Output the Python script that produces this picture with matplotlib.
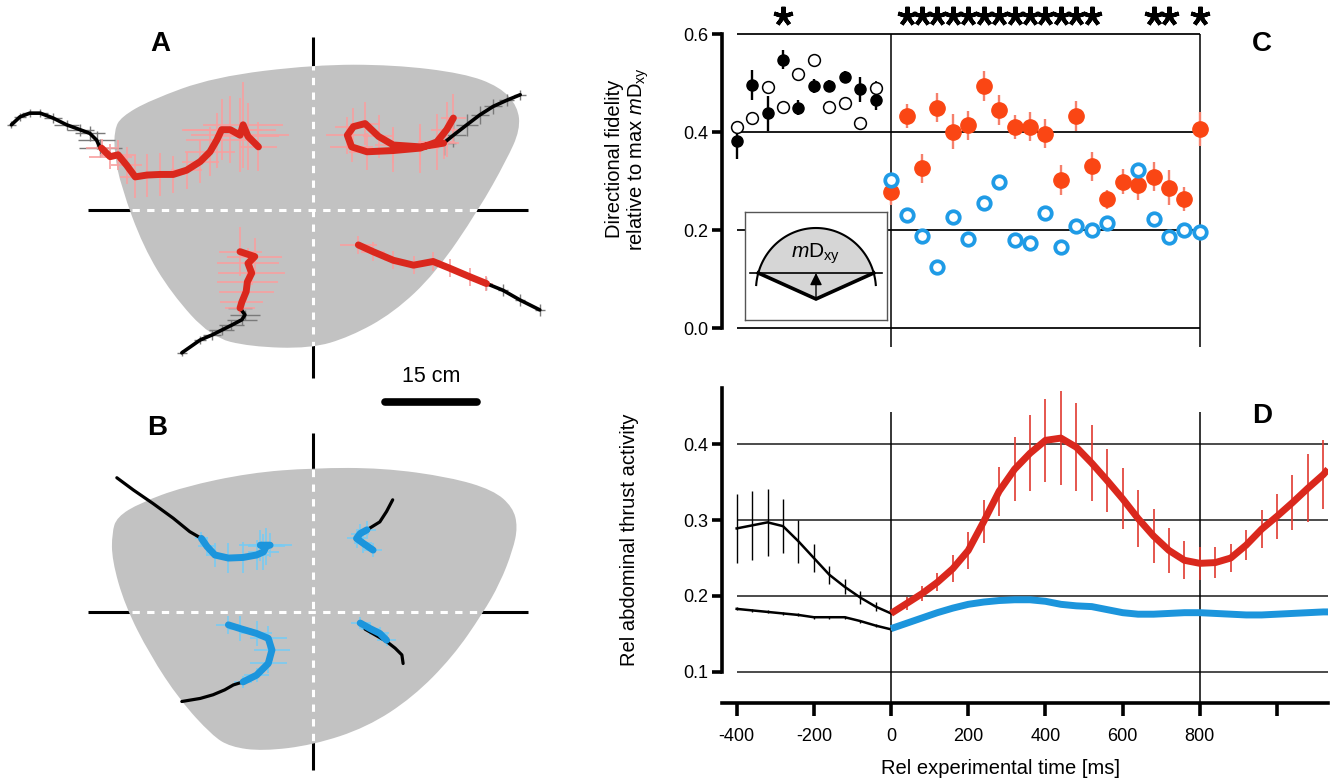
import numpy as np
import matplotlib
matplotlib.use("Agg")
import matplotlib.pyplot as plt
from matplotlib.path import Path
from matplotlib.patches import PathPatch, Polygon

plt.rcParams['font.family'] = ['Liberation Sans Narrow', 'Liberation Sans', 'DejaVu Sans']
plt.rcParams['mathtext.fontset'] = 'custom'
plt.rcParams['mathtext.rm'] = 'Liberation Sans'
plt.rcParams['mathtext.it'] = 'Liberation Sans:italic'

# ---------------- data ----------------
# panel C: directional fidelity, pre-stimulus (black) and stimulus (red / blue)
c_t_pre = np.arange(-400, -39, 40)
c_pre_filled = [0.381, 0.496, 0.438, 0.548, 0.450, 0.494, 0.494, 0.512, 0.487, 0.466]
c_pre_filled_err = [0.035, 0.030, 0.035, 0.020, 0.015, 0.015, 0.012, 0.012, 0.025, 0.020]
c_pre_open = [0.410, 0.428, 0.491, 0.452, 0.518, 0.548, 0.451, 0.459, 0.419, 0.489]
c_pre_open_err = [0.012, 0.010, 0.012, 0.010, 0.010, 0.008, 0.010, 0.010, 0.012, 0.015]

c_t_stim = np.arange(0, 801, 40)
c_red = [0.277, 0.433, 0.326, 0.450, 0.401, 0.414, 0.494, 0.445, 0.410, 0.411, 0.397,
         0.302, 0.433, 0.330, 0.263, 0.299, 0.292, 0.309, 0.287, 0.264, 0.406]
c_red_err = [0.025, 0.025, 0.030, 0.030, 0.035, 0.030, 0.030, 0.030, 0.025, 0.030, 0.030,
             0.030, 0.030, 0.030, 0.020, 0.025, 0.030, 0.030, 0.035, 0.025, 0.035]
c_blue = [0.302, 0.231, 0.188, 0.126, 0.228, 0.183, 0.255, 0.299, 0.180, 0.175, 0.236,
          0.165, 0.209, 0.200, 0.215, np.nan, 0.323, 0.222, 0.186, 0.200, 0.197]
c_blue_err = [0.012] * 21
c_star_t = [-280, 40, 80, 120, 160, 200, 240, 280, 320, 360, 400, 440, 480, 520, 680, 720, 800]

# panel D: abdominal thrust activity
d_t_pre = np.arange(-400, 1, 40)
d_pre_up = [0.289, 0.293, 0.297, 0.292, 0.272, 0.250, 0.228, 0.212, 0.198, 0.186, 0.177]
d_pre_up_err = [0.046, 0.045, 0.044, 0.036, 0.028, 0.018, 0.012, 0.010, 0.008, 0.006, 0.0]
d_pre_low = [0.183, 0.181, 0.179, 0.177, 0.175, 0.172, 0.172, 0.172, 0.167, 0.161, 0.156]
d_pre_low_err = [0.002] * 11

d_t_stim = np.append(np.arange(0, 1121, 40), 1132)
d_red = [0.177, 0.190, 0.203, 0.218, 0.236, 0.260, 0.298, 0.338, 0.367, 0.388, 0.405,
         0.408, 0.396, 0.375, 0.352, 0.328, 0.302, 0.279, 0.260, 0.247, 0.243, 0.244,
         0.250, 0.267, 0.288, 0.305, 0.323, 0.342, 0.360, 0.367]
d_red_err = [0.0, 0.008, 0.010, 0.012, 0.018, 0.024, 0.028, 0.032, 0.042, 0.050, 0.055,
             0.062, 0.058, 0.050, 0.042, 0.040, 0.037, 0.036, 0.030, 0.025, 0.022, 0.020,
             0.018, 0.020, 0.025, 0.030, 0.036, 0.045, 0.045, 0.0]
d_blue = [0.157, 0.164, 0.171, 0.178, 0.184, 0.189, 0.192, 0.194, 0.195, 0.195, 0.193,
          0.189, 0.187, 0.186, 0.182, 0.178, 0.176, 0.176, 0.177, 0.178, 0.178, 0.177,
          0.176, 0.175, 0.175, 0.176, 0.177, 0.178, 0.179, 0.179]
d_blue_err = [0.002] * 30

# panels A/B: arena outlines and trajectories, cm from arena centre (y up)
a_arena = [(-32.4, 13.1), (-31.3, 15.2), (-26.6, 17.9), (-16.2, 21.7), (0.2, 23.7), (13.1, 23.7),
           (24.6, 22.3), (30.5, 20.1), (33.4, 16.9), (33.8, 13.1), (31.6, 8.2), (27.0, 0.0),
           (20.0, -10.3), (13.1, -16.8), (6.0, -20.7), (-0.4, -22.6), (-10.3, -22.3),
           (-16.7, -20.7), (-23.1, -13.6), (-27.7, -6.0), (-31.3, 3.8), (-32.4, 9.2)]
b_arena = [(-32.8, 12.9), (-32.0, 15.5), (-28.2, 17.8), (-21.2, 20.4), (-10.3, 22.7), (0.0, 23.5),
           (11.4, 23.5), (22.3, 22.0), (29.4, 19.9), (32.6, 17.1), (33.4, 13.9), (32.6, 10.1),
           (30.5, 4.7), (27.7, -0.2), (22.8, -7.3), (16.3, -13.9), (8.8, -18.8), (0.0, -21.7),
           (-8.2, -22.7), (-13.5, -22.0), (-16.5, -20.1), (-21.7, -14.4), (-26.6, -7.0),
           (-30.7, 1.1), (-32.8, 8.5)]

a_ul_pre = np.array([(-49.2, 13.9), (-47.8, 15.2), (-46.2, 15.8), (-44.5, 15.8), (-42.4, 15.0),
                     (-40.2, 13.9), (-38.0, 13.1), (-36.4, 12.5), (-35.3, 11.4), (-34.7, 10.1)])
a_ul_pre_err = np.array([(0.8, 0.6), (1.0, 0.6), (1.2, 0.6), (1.2, 0.6), (1.5, 0.8),
                         (2.0, 0.8), (2.2, 1.0), (2.5, 1.2), (3.0, 1.5), (3.5, 1.5)])
a_ul_stim = np.array([(-34.5, 10.1), (-33.1, 8.7), (-31.8, 9.0), (-30.4, 7.3), (-29.0, 5.4),
                      (-27.1, 5.7), (-25.0, 5.8), (-22.8, 5.8), (-20.6, 6.5), (-18.4, 7.9),
                      (-16.8, 9.5), (-15.7, 11.4), (-14.9, 13.1), (-13.5, 13.1), (-11.9, 12.2),
                      (-11.4, 13.9), (-10.6, 12.0), (-8.9, 10.3)])
a_ul_stim_err = np.array([(2.5, 1.5), (3.5, 2.0), (3.0, 2.5), (2.5, 3.0), (2.5, 3.5), (2.0, 3.5),
                          (2.0, 3.5), (2.0, 3.0), (2.5, 3.0), (3.0, 3.5), (4.0, 4.0), (5.0, 4.5),
                          (6.5, 5.0), (7.5, 5.5), (8.0, 6.0), (6.5, 7.0), (5.0, 5.5), (3.0, 4.0)])

a_ur_pre = np.array([(33.8, 18.8), (31.6, 17.9), (29.4, 16.9), (27.2, 15.5), (25.1, 13.9),
                     (22.9, 12.2), (21.3, 10.9)])
a_ur_pre_err = np.array([(1.0, 0.8), (1.2, 1.0), (1.5, 1.2), (1.5, 1.5), (1.8, 1.8),
                         (2.0, 2.0), (2.0, 2.0)])
a_ur_stim = np.array([(21.3, 10.9), (17.5, 10.3), (13.1, 10.6), (10.7, 12.0), (8.5, 14.1),
                      (6.6, 13.6), (5.6, 12.2), (6.3, 10.3), (8.8, 9.5), (13.1, 9.7),
                      (17.5, 10.1), (20.2, 11.1), (21.8, 13.1), (22.9, 15.0)])
a_ur_stim_err = np.array([(2.5, 2.5), (3.0, 3.0), (3.0, 3.0), (2.5, 3.5), (2.5, 3.5), (3.0, 3.0),
                          (3.5, 3.0), (3.5, 2.5), (3.0, 3.0), (3.0, 3.5), (3.0, 4.0), (3.0, 4.5),
                          (2.5, 4.5), (2.0, 4.0)])

a_ll_pre = np.array([(-11.9, -16.0), (-11.1, -17.1), (-11.6, -17.9), (-13.3, -18.8),
                     (-14.9, -19.6), (-16.5, -20.4), (-18.4, -21.2), (-21.4, -23.3)])
a_ll_pre_err = np.array([(2.0, 0.8), (2.5, 0.8), (2.5, 0.8), (2.0, 0.8), (2.0, 0.8),
                         (1.5, 0.8), (1.0, 0.6), (0.8, 0.5)])
a_ll_stim = np.array([(-11.9, -6.8), (-9.5, -7.6), (-10.6, -8.7), (-10.0, -10.3),
                      (-10.7, -11.7), (-10.9, -13.3), (-11.6, -15.0), (-11.9, -16.0)])
a_ll_stim_err = np.array([(3.5, 4.0), (4.5, 3.0), (5.0, 2.5), (5.5, 2.0), (5.0, 1.5),
                          (4.5, 1.5), (3.5, 1.2), (2.5, 1.0)])

a_lr_pre = np.array([(28.3, -12.0), (31.0, -13.1), (33.8, -14.7), (37.0, -16.3)])
a_lr_pre_err = np.array([(0.8, 1.0), (0.8, 1.0), (0.8, 1.0), (0.8, 1.0)])
a_lr_stim = np.array([(7.4, -5.7), (9.8, -6.8), (13.1, -8.2), (16.4, -9.0), (19.6, -8.4),
                      (22.3, -9.5), (25.6, -10.9), (28.3, -12.0)])
a_lr_stim_err = np.array([(3.0, 1.5), (2.0, 1.5), (1.5, 1.5), (1.2, 1.5), (1.2, 1.5),
                          (1.0, 1.5), (1.0, 1.5), (1.0, 1.2)])

b_ul_pre = np.array([(-32.0, 21.9), (-29.3, 19.9), (-26.1, 17.7), (-22.8, 15.3),
                     (-20.1, 13.1), (-18.2, 12.0)])
b_ul_stim = np.array([(-18.2, 12.0), (-17.3, 10.7), (-16.0, 9.3), (-13.8, 8.8), (-11.4, 8.9),
                      (-9.2, 9.3), (-8.1, 9.8), (-7.6, 10.7), (-8.6, 10.9), (-7.0, 10.9)])
b_ul_stim_err = np.array([(1.0, 1.0), (1.5, 1.5), (1.5, 2.0), (1.5, 2.5), (1.5, 2.5),
                          (2.0, 2.5), (2.5, 3.0), (3.0, 3.0), (3.5, 2.5), (3.5, 2.0)])
b_ur_pre = np.array([(13.0, 18.3), (12.0, 16.4), (10.9, 14.7), (8.8, 13.4)])
b_ur_stim = np.array([(8.8, 13.4), (7.7, 12.8), (7.1, 12.0), (8.2, 11.2), (9.8, 10.1)])
b_ur_stim_err = np.array([(1.5, 1.5), (1.5, 1.5), (1.5, 1.5), (1.5, 1.5), (1.5, 1.2)])
b_ll_pre = np.array([(-11.4, -11.4), (-13.0, -11.9), (-14.4, -12.7), (-16.3, -13.5),
                     (-18.4, -14.1), (-21.4, -14.6)])
b_ll_stim = np.array([(-13.8, -2.1), (-11.9, -2.7), (-9.2, -3.5), (-7.3, -4.3), (-6.7, -6.2),
                      (-7.3, -8.4), (-9.2, -10.3), (-11.4, -11.4)])
b_ll_stim_err = np.array([(2.0, 1.5), (2.0, 2.0), (2.5, 2.0), (3.0, 2.0), (3.0, 1.8),
                          (3.0, 1.5), (2.0, 1.2), (1.5, 1.0)])
b_lr_pre = np.array([(8.5, -2.8), (12.0, -4.8), (13.4, -5.9), (14.5, -7.0), (14.7, -8.4)])
b_lr_stim = np.array([(7.7, -1.8), (9.3, -2.7), (10.9, -3.5), (12.0, -4.6)])
b_lr_stim_err = np.array([(1.5, 1.0), (1.5, 1.0), (1.5, 1.0), (1.5, 1.0)])

SCALE_BAR_CM = 15

# ---------------- layout ----------------
W, H = 1338, 781
PX_PER_CM = 6.13
T_LEFT, T_RIGHT = -438, 1132
RED_PT, RED_ERR = '#fa4614', '#f5806c'
BLUE_PT = '#1f9be6'
RED_LINE, BLUE_LINE = '#da281d', '#1c95dc'
LIGHT_RED, LIGHT_BLUE = '#f8a0a0', '#78cbf3'
LABEL_FS = 14.5
TICK_FS = 13

fig = plt.figure(figsize=(W / 100, H / 100), dpi=100)


def px_rect(x0, y0, x1, y1):
    return [x0 / W, 1 - y1 / H, (x1 - x0) / W, (y1 - y0) / H]


def smooth_closed(points):
    pts = np.asarray(points, dtype=float)
    mids = (pts + np.roll(pts, -1, axis=0)) / 2
    verts = [mids[-1]]
    codes = [Path.MOVETO]
    for p, m in zip(pts, mids):
        verts += [p, m]
        codes += [Path.CURVE3, Path.CURVE3]
    verts.append(mids[-1])
    codes.append(Path.CLOSEPOLY)
    return Path(verts, codes)


def arena_axes(rect, centre):
    ax = fig.add_axes(px_rect(*rect))
    x0, y0, x1, y1 = rect
    cx, cy = centre
    ax.set_xlim((x0 - cx) / PX_PER_CM, (x1 - cx) / PX_PER_CM)
    ax.set_ylim((cy - y1) / PX_PER_CM, (cy - y0) / PX_PER_CM)
    ax.axis('off')
    return ax


def draw_arena(ax, outline, vspan, hspan):
    ax.plot([0, 0], vspan, color='black', lw=2.2, zorder=1, solid_capstyle='butt')
    ax.plot(hspan, [0, 0], color='black', lw=2.2, zorder=1, solid_capstyle='butt')
    patch = PathPatch(smooth_closed(outline), facecolor='#c2c2c2', edgecolor='none', zorder=2)
    ax.add_patch(patch)
    for xs, ys in [([0, 0], vspan), (hspan, [0, 0])]:
        ln, = ax.plot(xs, ys, color='white', lw=2.2, ls=(0, (2.4, 2.4)), zorder=2.5)
        ln.set_clip_path(patch)


def draw_track(ax, pre, pre_err, stim, stim_err, color, ecolor, lw_pre=2.6, lw_stim=5.0):
    if pre_err is not None:
        ax.errorbar(pre[:, 0], pre[:, 1], xerr=pre_err[:, 0], yerr=pre_err[:, 1], fmt='none',
                    ecolor='#7a7a7a', elinewidth=1.0, capsize=0, zorder=3)
    ax.errorbar(stim[:, 0], stim[:, 1], xerr=stim_err[:, 0], yerr=stim_err[:, 1], fmt='none',
                ecolor=ecolor, elinewidth=1.2, capsize=0, zorder=3)
    ax.plot(pre[:, 0], pre[:, 1], color='black', lw=lw_pre, zorder=4,
            solid_capstyle='round', solid_joinstyle='round')
    ax.plot(stim[:, 0], stim[:, 1], color=color, lw=lw_stim, zorder=5,
            solid_capstyle='round', solid_joinstyle='round')


# ---- panel A ----
ax_a = arena_axes((0, 0, 560, 390), (313, 210))
draw_arena(ax_a, a_arena, [-27.4, 28.2], [-36.7, 35.1])
draw_track(ax_a, a_ul_pre, a_ul_pre_err, a_ul_stim, a_ul_stim_err, RED_LINE, LIGHT_RED)
draw_track(ax_a, a_ur_pre, a_ur_pre_err, a_ur_stim, a_ur_stim_err, RED_LINE, LIGHT_RED)
draw_track(ax_a, a_ll_pre, a_ll_pre_err, a_ll_stim, a_ll_stim_err, RED_LINE, LIGHT_RED)
draw_track(ax_a, a_lr_pre, a_lr_pre_err, a_lr_stim, a_lr_stim_err, RED_LINE, LIGHT_RED)

# ---- panel B ----
ax_b = arena_axes((0, 390, 560, 781), (313, 612))
draw_arena(ax_b, b_arena, [-25.8, 29.2], [-36.7, 35.1])
for pre, stim, err in [(b_ul_pre, b_ul_stim, b_ul_stim_err), (b_ur_pre, b_ur_stim, b_ur_stim_err),
                       (b_ll_pre, b_ll_stim, b_ll_stim_err), (b_lr_pre, b_lr_stim, b_lr_stim_err)]:
    draw_track(ax_b, pre, None, stim, err, BLUE_LINE, LIGHT_BLUE, lw_pre=2.3, lw_stim=5.0)

# scale bar
ax_b.plot([11.75, 11.75 + SCALE_BAR_CM], [34.3, 34.3], color='black', lw=5.5,
          solid_capstyle='round', clip_on=False)
ax_b.text(11.75 + SCALE_BAR_CM / 2, 38.4, f'{SCALE_BAR_CM} cm', ha='center', va='center',
          fontsize=15.5, family='Liberation Sans', clip_on=False)

# ---- panel C ----
ax_c = fig.add_axes(px_rect(722, 34, 1328, 347))
ax_c.patch.set_alpha(0)
ax_c.set_xlim(T_LEFT, T_RIGHT)
ax_c.set_ylim(-0.038, 0.6)
for s in ['top', 'right', 'bottom']:
    ax_c.spines[s].set_visible(False)
ax_c.spines['left'].set_linewidth(2.6)
ax_c.spines['left'].set_bounds(0, 0.6)
ax_c.set_xticks([])
ax_c.set_yticks([0, 0.2, 0.4, 0.6])
ax_c.set_yticklabels(['0.0', '0.2', '0.4', '0.6'])
ax_c.tick_params(axis='y', length=7, width=2.6, pad=3, labelsize=TICK_FS)
ax_c.hlines([0, 0.2, 0.4, 0.6], -400, 800, color='#1a1a1a', lw=1.4, zorder=1, clip_on=False)
ax_c.vlines([0, 800], -0.038, 0.6, color='black', lw=1.1, zorder=1, clip_on=False)

ax_c.errorbar(c_t_pre, c_pre_filled, yerr=c_pre_filled_err, fmt='o', ms=8, color='black',
              elinewidth=1.7, capsize=0, zorder=3, clip_on=False)
ax_c.errorbar(c_t_pre, c_pre_open, yerr=c_pre_open_err, fmt='o', ms=8.5, mfc='white', mec='black',
              mew=1.1, ecolor='black', elinewidth=1.2, capsize=0, zorder=3, clip_on=False)
ax_c.errorbar(c_t_stim, c_red, yerr=c_red_err, fmt='o', ms=11, color=RED_PT, ecolor=RED_ERR,
              elinewidth=1.7, capsize=0, zorder=3, clip_on=False)
ax_c.errorbar(c_t_stim, c_blue, yerr=c_blue_err, fmt='o', ms=9, mfc='white', mec=BLUE_PT,
              mew=2.7, ecolor=BLUE_PT, elinewidth=1.2, capsize=0, zorder=4, clip_on=False)
ax_c.plot(c_star_t, [0.636] * len(c_star_t), ls='none', marker=(5, 2, 0), ms=14, mew=2.9,
          color='black', clip_on=False)
ax_c.text(-0.155, 0.60, 'Directional fidelity\nrelative to max $m\\mathregular{D}_\\mathregular{xy}$',
          transform=ax_c.transAxes, rotation=90, ha='center', va='center', fontsize=LABEL_FS,
          linespacing=1.1)

# inset schematic
ins = fig.add_axes(px_rect(745, 212, 887, 320))
ins.set_xlim(-71, 71)
ins.set_ylim(-30, 78)
ins.set_xticks([])
ins.set_yticks([])
for s in ins.spines.values():
    s.set_color('#555555')
    s.set_linewidth(1.0)
A_SEMI, B_SEMI, CHORD_Y, V_Y = 60, 62, 17, -9
th_fill = np.linspace(np.arcsin(CHORD_Y / B_SEMI), np.pi - np.arcsin(CHORD_Y / B_SEMI), 80)
fill_pts = np.column_stack([A_SEMI * np.cos(th_fill), B_SEMI * np.sin(th_fill)])
fill_pts = np.vstack([fill_pts, [0, V_Y]])
ins.add_patch(Polygon(fill_pts, closed=True, facecolor='#d6d6d6', edgecolor='none'))
th_arc = np.linspace(np.radians(4.6), np.radians(175.4), 120)
ins.plot(A_SEMI * np.cos(th_arc), B_SEMI * np.sin(th_arc), color='black', lw=1.5)
ins.plot([-66, 66], [CHORD_Y, CHORD_Y], color='black', lw=1.2)
chord_x = A_SEMI * np.cos(np.arcsin(CHORD_Y / B_SEMI))
ins.plot([-chord_x, 0, chord_x], [CHORD_Y, V_Y, CHORD_Y], color='black', lw=2.6,
         solid_joinstyle='miter')
ins.annotate('', xy=(0, CHORD_Y), xytext=(0, V_Y),
             arrowprops=dict(arrowstyle='-|>', color='black', lw=1.0, mutation_scale=18,
                             shrinkA=0, shrinkB=0))
ins.text(0, 36, '$m\\mathregular{D}_\\mathregular{xy}$', ha='center', va='center', fontsize=15)

# ---- panel D ----
ax_d = fig.add_axes(px_rect(722, 388, 1328, 703))
ax_d.patch.set_alpha(0)
ax_d.set_xlim(T_LEFT, T_RIGHT)
ax_d.set_ylim(0.059, 0.474)
for s in ['top', 'right']:
    ax_d.spines[s].set_visible(False)
ax_d.spines['left'].set_linewidth(2.6)
ax_d.spines['left'].set_bounds(0.1, 0.474)
ax_d.spines['bottom'].set_linewidth(2.6)
ax_d.set_xticks([-400, -200, 0, 200, 400, 600, 800, 1000])
ax_d.set_xticklabels(['-400', '-200', '0', '200', '400', '600', '800', ''])
ax_d.set_yticks([0.1, 0.2, 0.3, 0.4])
ax_d.set_yticklabels(['0.1', '0.2', '0.3', '0.4'])
ax_d.tick_params(axis='x', length=9, width=2.6, pad=9, labelsize=TICK_FS)
ax_d.tick_params(axis='y', length=7, width=2.6, pad=3, labelsize=TICK_FS)
ax_d.hlines([0.1, 0.2, 0.3, 0.4], -400, T_RIGHT, color='#1a1a1a', lw=1.1, zorder=1)
ax_d.vlines([0, 800], 0.059, 0.442, color='black', lw=1.1, zorder=1, clip_on=False)

ax_d.errorbar(d_t_pre, d_pre_up, yerr=d_pre_up_err, fmt='none', ecolor='black',
              elinewidth=1.0, capsize=0, zorder=3)
ax_d.plot(d_t_pre, d_pre_up, color='black', lw=1.8, zorder=3)
ax_d.errorbar(d_t_pre, d_pre_low, yerr=d_pre_low_err, fmt='none', ecolor='black',
              elinewidth=1.0, capsize=0, zorder=3)
ax_d.plot(d_t_pre, d_pre_low, color='black', lw=1.8, zorder=3)
ax_d.errorbar(d_t_stim, d_red, yerr=d_red_err, fmt='none', ecolor='#e03a30',
              elinewidth=1.2, capsize=0, zorder=3, clip_on=False)
ax_d.plot(d_t_stim, d_red, color=RED_LINE, lw=5.0, zorder=4, solid_capstyle='butt')
ax_d.errorbar(d_t_stim, d_blue, yerr=d_blue_err, fmt='none', ecolor=LIGHT_BLUE,
              elinewidth=1.0, capsize=0, zorder=3)
ax_d.plot(d_t_stim, d_blue, color=BLUE_LINE, lw=5.0, zorder=4, solid_capstyle='butt')
ax_d.text(-0.152, 0.517, 'Rel abdominal thrust activity', transform=ax_d.transAxes,
          rotation=90, ha='center', va='center', fontsize=LABEL_FS)
ax_d.text(0.46, -0.207, 'Rel experimental time [ms]', transform=ax_d.transAxes,
          ha='center', va='center', fontsize=LABEL_FS)

# panel letters
for letter, (x, y) in {'A': (160, 44), 'B': (157, 428), 'C': (1262, 44), 'D': (1262, 416)}.items():
    fig.text(x / W, 1 - y / H, letter, fontsize=20, fontweight='bold', ha='center', va='center')

fig.savefig('out.png', dpi=100)
